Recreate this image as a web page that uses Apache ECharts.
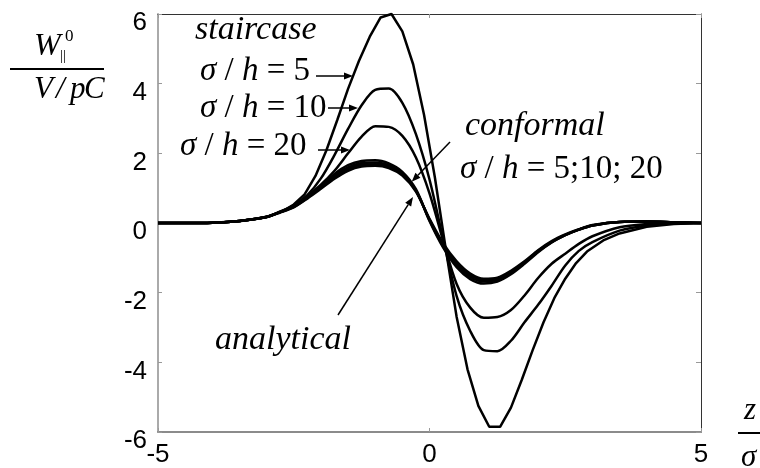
<!DOCTYPE html>
<html>
<head>
<meta charset="utf-8">
<script src="https://cdn.jsdelivr.net/npm/echarts@6/dist/echarts.min.js"></script>
<style>html,body{margin:0;padding:0;background:#fff}#c{width:760px;height:468px}</style>
</head>
<body>
<div id="c"></div>
<script>
// shared x grid (z/sigma)
const xGrid = [-5,-4.5,-4,-3.5,-3,-2.75,-2.5,-2.25,-2,-1.75,-1.5,-1.25,-1,-0.75,-0.5,-0.25,0,0.25,0.5,0.75,1,1.25,1.5,1.75,2,2.25,2.5,2.75,3,3.5,4,4.5,5];
const analytical = [0,0,0.01,0.06,0.17,0.30,0.45,0.70,0.98,1.27,1.50,1.62,1.64,1.58,1.36,0.90,0.12,-0.58,-1.10,-1.45,-1.60,-1.57,-1.37,-1.10,-0.78,-0.52,-0.33,-0.18,-0.06,0.03,0.04,0.02,0];
const conformal20 = [0,0,0.01,0.06,0.17,0.31,0.46,0.72,1.01,1.32,1.55,1.67,1.69,1.62,1.40,0.92,0.10,-0.62,-1.16,-1.50,-1.64,-1.60,-1.40,-1.12,-0.80,-0.54,-0.34,-0.19,-0.07,0.03,0.04,0.02,0];
const conformal10 = [0,0,0.01,0.06,0.17,0.31,0.47,0.73,1.03,1.36,1.60,1.72,1.74,1.66,1.43,0.94,0.08,-0.66,-1.21,-1.55,-1.68,-1.63,-1.43,-1.14,-0.82,-0.55,-0.35,-0.19,-0.07,0.03,0.04,0.02,0];
const conformal5 = [0,0,0.01,0.06,0.17,0.32,0.48,0.75,1.06,1.41,1.66,1.78,1.80,1.71,1.47,0.97,0.06,-0.70,-1.27,-1.61,-1.74,-1.68,-1.47,-1.17,-0.84,-0.56,-0.35,-0.19,-0.07,0.03,0.04,0.02,0];
const staircase20 = [0,0,0.01,0.06,0.18,0.32,0.49,0.77,1.10,1.50,2.00,2.48,2.78,2.76,2.50,1.88,0.85,-0.50,-1.75,-2.43,-2.72,-2.70,-2.50,-2.08,-1.58,-1.17,-0.88,-0.60,-0.38,-0.12,-0.03,0,0];
const staircase10 = [0,0,0.01,0.06,0.18,0.33,0.51,0.80,1.28,1.95,2.70,3.38,3.82,3.86,3.45,2.55,1.25,-0.45,-2.10,-3.10,-3.65,-3.68,-3.38,-2.85,-2.35,-1.80,-1.22,-0.80,-0.55,-0.22,-0.07,-0.02,0];
// staircase sigma/h=5 is sampled on its own grid
const s5x = [-5,-4,-3.5,-3,-2.7,-2.5,-2.3,-2.1,-1.9,-1.7,-1.5,-1.3,-1.1,-0.9,-0.7,-0.5,-0.3,-0.1,0.1,0.3,0.5,0.7,0.9,1.1,1.3,1.5,1.7,1.9,2.1,2.3,2.5,2.7,2.9,3.2,3.5,4,4.5,5];
const staircase5 = [0,0.01,0.05,0.17,0.34,0.53,0.82,1.35,2.08,2.95,3.85,4.65,5.35,5.90,6.0,5.50,4.55,3.10,1.30,-0.75,-2.70,-4.20,-5.25,-5.85,-5.85,-5.30,-4.50,-3.65,-2.85,-2.15,-1.60,-1.15,-0.82,-0.50,-0.30,-0.11,-0.03,0];
const xTicks = [-5,0,5];
const yTicks = [-6,-4,-2,0,2,4,6];

const pair = (xs, ys) => xs.map((x, i) => [x, ys[i]]);
const mk = (name, data, smooth) => ({
  name, type: 'line', data, showSymbol: false, smooth: smooth, clip: false,
  lineStyle: { color: '#000', width: 2.5 }, itemStyle: { color: '#000' }, animation: false
});

const chart = echarts.init(document.getElementById('c'));
const SERIF = '"Liberation Serif", "Times New Roman", serif';
const SANS = '"Liberation Sans", Arial, sans-serif';

function arrow(x1, y1, x2, y2) {
  const a = Math.atan2(y2 - y1, x2 - x1), L = 9, W = 3.5;
  const bx = x2 - L * Math.cos(a), by = y2 - L * Math.sin(a);
  const px = -Math.sin(a) * W, py = Math.cos(a) * W;
  return [
    { type: 'line', shape: { x1, y1, x2: bx, y2: by }, style: { stroke: '#000', lineWidth: 1.5 } },
    { type: 'polygon', shape: { points: [[x2, y2], [bx + px, by + py], [bx - px, by - py]] }, style: { fill: '#000' } }
  ];
}
const rich = {
  i: { fontFamily: SERIF, fontStyle: 'italic', fontSize: 33, color: '#000' },
  n: { fontFamily: SERIF, fontSize: 33, color: '#000' }
};
function word(x, y, text) {
  return { type: 'text', x, y, style: { text, font: 'italic 34px ' + SERIF, fill: '#000', verticalAlign: 'middle' } };
}
function formula(x, y, text) {
  return { type: 'text', x, y, style: { text, font: '33px ' + SERIF, fill: '#000', verticalAlign: 'middle', rich } };
}
function t(x, y, text, font) {
  return { type: 'text', x, y, style: { text, font, fill: '#000', verticalAlign: 'middle' } };
}

const graphic = [
  // y axis title
  t(34, 47, 'W', 'italic 32px ' + SERIF),
  t(65, 37, '0', '17px ' + SERIF),
  t(60, 56, '||', '15px ' + SERIF),
  { type: 'rect', shape: { x: 10, y: 68, width: 94, height: 2 }, style: { fill: '#000' } },
  t(34, 90, 'V', 'italic 31px ' + SERIF),
  t(56, 90, '/', 'italic 31px ' + SERIF),
  t(70, 90, 'p', 'italic 31px ' + SERIF),
  t(84, 90, 'C', 'italic 31px ' + SERIF),
  // x axis title
  t(744, 411, 'z', 'italic 31px ' + SERIF),
  { type: 'rect', shape: { x: 738, y: 432, width: 30, height: 2 }, style: { fill: '#000' } },
  t(741, 458, 'σ', 'italic 31px ' + SERIF),
  // annotations
  word(195, 30.5, 'staircase'),
  formula(200, 71, '{i|σ}{n| / }{i|h}{n| = 5}'),
  formula(200, 108, '{i|σ}{n| / }{i|h}{n| = 10}'),
  formula(180, 146, '{i|σ}{n| / }{i|h}{n| = 20}'),
  word(465, 126.5, 'conformal'),
  formula(460, 169, '{i|σ}{n| / }{i|h}{n| = 5;10; 20}'),
  word(215, 340.5, 'analytical'),
  ...arrow(316, 76, 353, 76),
  ...arrow(328, 108, 358, 108),
  ...arrow(318, 150, 350, 150),
  ...arrow(450, 142, 411.7, 181.7),
  ...arrow(338, 315, 413, 197)
];

chart.setOption({
  animation: false,
  grid: { left: 158, right: 59, top: 14, bottom: 35, containLabel: false },
  xAxis: [
    { type: 'value', min: xTicks[0], max: xTicks[xTicks.length - 1], interval: 5, position: 'bottom',
      axisLine: { onZero: false, lineStyle: { color: '#666', width: 1.5 } },
      axisTick: { inside: true, length: 4, lineStyle: { color: '#999' } },
      splitLine: { show: false },
      axisLabel: { margin: 10, fontFamily: SANS, fontSize: 26, color: '#000' } },
    { type: 'value', min: -5, max: 5, interval: 5, position: 'top',
      axisLine: { onZero: false, lineStyle: { color: '#333', width: 1 } },
      axisTick: { inside: true, length: 4, lineStyle: { color: '#999' } },
      splitLine: { show: false }, axisLabel: { show: false } }
  ],
  yAxis: [
    { type: 'value', min: yTicks[0], max: yTicks[yTicks.length - 1], interval: 2, position: 'left',
      axisLine: { show: true, onZero: false, lineStyle: { color: '#aaa', width: 2 } },
      axisTick: { show: true, inside: true, length: 4, lineStyle: { color: '#999' } },
      splitLine: { show: false },
      axisLabel: { margin: 11, fontFamily: SANS, fontSize: 26, color: '#000', verticalAlign: 'top', lineHeight: 18 } },
    { type: 'value', min: -6, max: 6, interval: 2, position: 'right',
      axisLine: { show: true, onZero: false, lineStyle: { color: '#333', width: 1 } },
      axisTick: { show: true, inside: true, length: 5, lineStyle: { color: '#999' } },
      splitLine: { show: false }, axisLabel: { show: false } }
  ],
  series: [
    mk('analytical', pair(xGrid, analytical), 0.3),
    mk('conformal σ/h=20', pair(xGrid, conformal20), 0.3),
    mk('conformal σ/h=10', pair(xGrid, conformal10), 0.3),
    mk('conformal σ/h=5', pair(xGrid, conformal5), 0.3),
    mk('staircase σ/h=20', pair(xGrid, staircase20), 0.3),
    mk('staircase σ/h=10', pair(xGrid, staircase10), 0.3),
    mk('staircase σ/h=5', pair(s5x, staircase5), false)
  ],
  graphic
});
</script>
</body>
</html>
